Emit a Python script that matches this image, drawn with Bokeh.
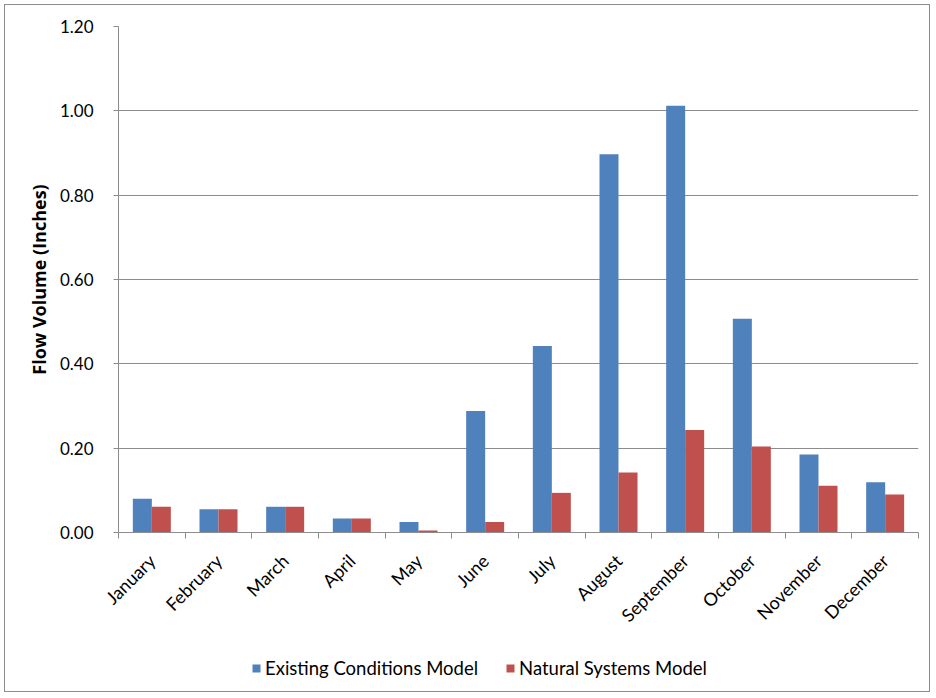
import numpy as np
from bokeh.plotting import figure
from bokeh.layouts import column
from bokeh.models import (ColumnDataSource, Range1d, FixedTicker, Legend, LegendItem,
                          NumeralTickFormatter)
from bokeh.transform import dodge
from bokeh.embed import file_html
from bokeh.resources import INLINE

months = ["January", "February", "March", "April", "May", "June", "July",
          "August", "September", "October", "November", "December"]
existing = [0.080, 0.055, 0.061, 0.033, 0.025, 0.288, 0.442, 0.897, 1.012, 0.507, 0.185, 0.119]
natural = [0.061, 0.055, 0.061, 0.033, 0.005, 0.025, 0.094, 0.142, 0.243, 0.204, 0.111, 0.090]
y_ticks = [0.0, 0.2, 0.4, 0.6, 0.8, 1.0, 1.2]
series_names = ["Existing Conditions Model", "Natural Systems Model"]

BLUE = "#4F81BD"
RED = "#C0504D"
GRID = "#8C8C8C"

centers = np.arange(len(months)) + 0.5
src = ColumnDataSource(dict(x=centers, existing=existing, natural=natural))

p = figure(width=924, height=637, output_backend="svg", toolbar_location=None,
           x_range=Range1d(0, len(months)), y_range=Range1d(0, 1.2),
           min_border_left=113, min_border_top=21, min_border_right=11,
           min_border_bottom=110)
p.outline_line_color = None
p.background_fill_color = "white"
p.border_fill_color = "white"

bw = 0.285
r1 = p.vbar(x=dodge("x", -bw / 2, range=p.x_range), top="existing", width=bw,
            source=src, fill_color=BLUE, line_color=None)
r2 = p.vbar(x=dodge("x", bw / 2, range=p.x_range), top="natural", width=bw,
            source=src, fill_color=RED, line_color=None)

# x axis: labels at centers, ticks at boundaries
xa = p.xaxis[0]
xa.ticker = FixedTicker(ticks=list(centers), minor_ticks=list(np.arange(len(months) + 1)))
xa.major_label_overrides = {float(c): m for c, m in zip(centers, months)}
xa.major_tick_out = 0
xa.major_tick_in = 0
xa.minor_tick_out = 6
xa.minor_tick_in = 0
xa.minor_tick_line_color = GRID
xa.axis_line_color = GRID
xa.major_label_orientation = np.pi / 4
xa.major_label_text_font = "Lato"
xa.major_label_text_font_size = "18px"
xa.major_label_text_color = "#000000"
xa.major_label_standoff = 19

ya = p.yaxis[0]
ya.ticker = FixedTicker(ticks=y_ticks)
ya.formatter = NumeralTickFormatter(format="0.00")
ya.minor_tick_line_color = None
ya.major_tick_out = 5
ya.major_tick_in = 0
ya.major_tick_line_color = GRID
ya.axis_line_color = GRID
ya.major_label_text_font = "Lato"
ya.major_label_text_font_size = "17px"
ya.major_label_text_color = "#000000"
ya.major_label_standoff = 20
ya.axis_label = "Flow Volume (Inches)"
ya.axis_label_text_font = "Open Sans"
ya.axis_label_text_font_size = "18px"
ya.axis_label_text_font_style = "bold"
ya.axis_label_text_color = "#000000"
ya.axis_label_standoff = 6

p.xgrid.grid_line_color = None
p.ygrid.grid_line_color = GRID
p.ygrid.ticker = FixedTicker(ticks=y_ticks)

# legend strip below the chart (its glyphs sit below its visible y range)
lg = figure(width=924, height=49, output_backend="svg", toolbar_location=None,
            x_range=Range1d(0, len(months)), y_range=Range1d(10, 11),
            x_axis_type=None, y_axis_type=None,
            min_border_left=0, min_border_right=0, min_border_top=0, min_border_bottom=0)
lg.outline_line_color = None
lg.xgrid.visible = False
lg.ygrid.visible = False
d1 = lg.vbar(x="x", top="existing", width=bw, source=src, fill_color=BLUE, line_color=None)
d2 = lg.vbar(x="x", top="natural", width=bw, source=src, fill_color=RED, line_color=None)

legend = Legend(items=[LegendItem(label=series_names[0], renderers=[d1]),
                       LegendItem(label=series_names[1], renderers=[d2])],
                orientation="horizontal", location=(133, 12),
                label_text_font="Lato", label_text_font_size="18.5px",
                label_text_color="#000000", glyph_width=10, glyph_height=10,
                spacing=27, label_standoff=4, border_line_color=None,
                background_fill_alpha=0, margin=0, padding=4)
lg.add_layout(legend, "center")

layout = column(p, lg, spacing=0,
                styles={"margin-left": "4px", "margin-top": "4px",
                        "border": "1px solid #8C8C8C", "background-color": "white"})

open("out.html", "w").write(file_html(layout, INLINE))
